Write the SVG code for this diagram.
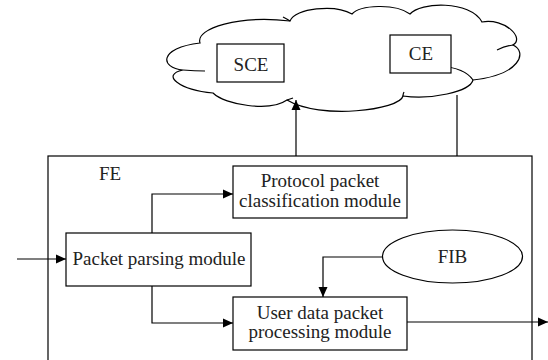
<svg xmlns="http://www.w3.org/2000/svg" width="548" height="360" viewBox="0 0 548 360">
<defs>
<style>
.ln{fill:none;stroke:#000;stroke-width:1.2}
.bx{fill:#fff;stroke:#000;stroke-width:1.2}
.t{font-family:'Liberation Serif','DejaVu Serif','Noto Serif',serif;font-size:19px;fill:#222;text-anchor:middle}
</style>
<marker id="ah" viewBox="0 0 10 10" refX="10" refY="5" markerWidth="10" markerHeight="10" markerUnits="userSpaceOnUse" orient="auto">
<path d="M0,0.5 L10,5 L0,9.5 Z" fill="#000"/>
</marker>
</defs>
<rect width="548" height="360" fill="#fff"/>
<g id="FE">
<rect class="bx" x="48" y="156" width="484" height="220"/>
<text class="t" font-family="Liberation Serif, serif" x="110" y="180">FE</text>
</g>
<g id="cloud">
<path class="bx" d="M200,43 C195,28 240,15 290,21 C295,8 335,4 352,14 C360,5 395,3 410,14 C420,2 470,0 482,22 C505,18 525,38 513,45 C528,52 520,75 473,80 C470,92 430,100 403,96 C400,110 320,120 287,100 C270,112 225,105 213,93 C180,90 160,75 183,70 C160,68 158,48 200,43 Z"/>
<path class="ln" d="M183,70 Q195,71 205,71"/>
<path class="ln" d="M497,50 Q505,46 513,45"/>
<path class="ln" d="M283,17 Q287,19 290,21"/>
<path class="ln" d="M440,66 Q465,68 473,80"/>
<path class="ln" d="M403,96 Q403,94 404,92"/>
<path class="ln" d="M293,98 Q290,99 287,100"/>
</g>
<g id="SCE">
<rect class="bx" x="217" y="44" width="67" height="38"/>
<text class="t" x="251" y="71">SCE</text>
</g>
<g id="CE">
<rect class="bx" x="390" y="35" width="61" height="38"/>
<text class="t" x="421" y="60">CE</text>
</g>
<g id="protocol">
<rect class="bx" x="233" y="166" width="174" height="52"/>
<text class="t" x="320" y="187">Protocol packet</text>
<text class="t" x="320" y="207">classification module</text>
</g>
<g id="parsing">
<rect class="bx" x="66" y="233" width="185" height="53"/>
<text class="t" x="159" y="265">Packet parsing module</text>
</g>
<g id="userdata">
<rect class="bx" x="233" y="297" width="174" height="53"/>
<text class="t" x="320" y="318.5">User data packet</text>
<text class="t" x="320" y="338">processing module</text>
</g>
<g id="FIB">
<ellipse class="bx" cx="452.5" cy="256.5" rx="70" ry="26.5"/>
<text class="t" x="452.5" y="263">FIB</text>
</g>
<g id="connectors">
<path class="ln" d="M296,156 V100" marker-end="url(#ah)"/>
<path class="ln" d="M457,95 V156"/>
<path class="ln" d="M17,259 H66" marker-end="url(#ah)"/>
<path class="ln" d="M152,233 V194 H233" marker-end="url(#ah)"/>
<path class="ln" d="M152,286 V323 H233" marker-end="url(#ah)"/>
<path class="ln" d="M382.5,257 H323 V297" marker-end="url(#ah)"/>
<path class="ln" d="M407,322 H548" marker-end="url(#ah)"/>
</g>
</svg>
